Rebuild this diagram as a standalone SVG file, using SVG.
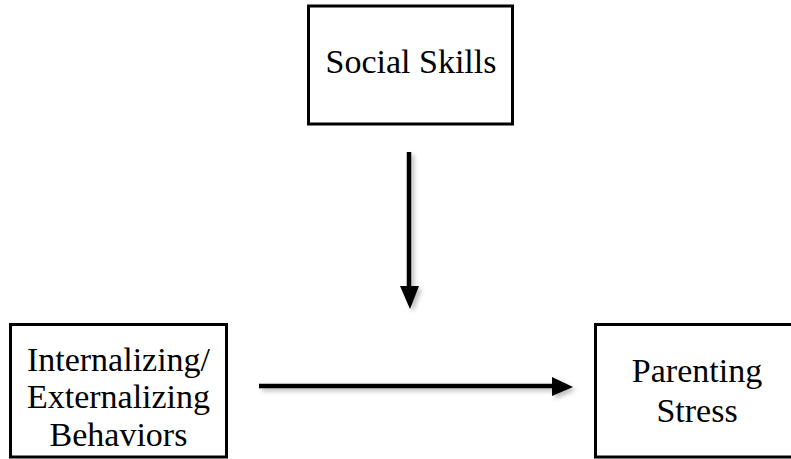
<svg xmlns="http://www.w3.org/2000/svg" width="791" height="459" viewBox="0 0 791 459">
  <defs>
    <style>
      .box { fill: #ffffff; stroke: #000000; stroke-width: 3; }
      .lbl { font-family: "Liberation Serif", "Times New Roman", serif; font-size: 34px; fill: #000000; text-anchor: middle; }
      .conn { stroke: #000000; stroke-width: 4.5; fill: none; }
      .head { fill: #000000; }
    </style>
    <filter id="shadow" x="-50%" y="-50%" width="200%" height="200%">
      <feDropShadow dx="3" dy="3" stdDeviation="2" flood-color="#000000" flood-opacity="0.25"/>
    </filter>
  </defs>
  <rect width="791" height="459" fill="#ffffff"/>

  <g id="social-skills">
    <rect class="box" x="308.5" y="6" width="204" height="118"/>
    <text class="lbl" x="411" y="73">Social Skills</text>
  </g>

  <g id="internalizing-externalizing">
    <rect class="box" x="10.5" y="324.5" width="216" height="132.5"/>
    <text class="lbl" x="118.5" y="371">Internalizing/</text>
    <text class="lbl" x="118.5" y="408">Externalizing</text>
    <text class="lbl" x="118.5" y="446">Behaviors</text>
  </g>

  <g id="parenting-stress">
    <rect class="box" x="595.5" y="324.5" width="210" height="132.5"/>
    <text class="lbl" x="697" y="382">Parenting</text>
    <text class="lbl" x="697" y="422">Stress</text>
  </g>

  <g id="connectors" filter="url(#shadow)">
    <line class="conn" x1="409" y1="152" x2="409" y2="288"/>
    <polygon class="head" points="400,286 419,286 410,309"/>
    <line class="conn" x1="259" y1="386" x2="554" y2="386"/>
    <polygon class="head" points="552,377 552,396 573,387"/>
  </g>
</svg>
